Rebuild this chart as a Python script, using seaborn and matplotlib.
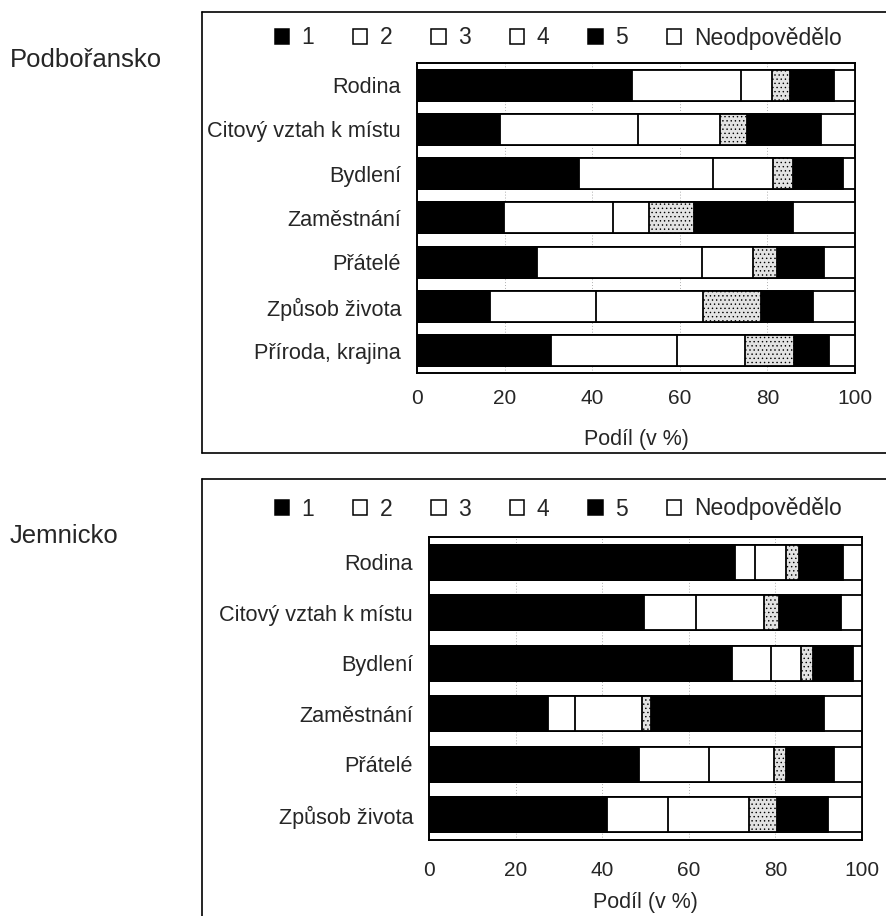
import matplotlib
matplotlib.use("Agg")
import matplotlib.pyplot as plt
import seaborn as sns
import pandas as pd
import numpy as np
from matplotlib.patches import Patch
from matplotlib.lines import Line2D

sns.set_theme(style="white")
plt.rcParams['font.family'] = ['Liberation Sans', 'DejaVu Sans']
plt.rcParams['hatch.linewidth'] = 0.5

# Answer scale (1 = most important ... 5, plus no answer)
answers = ["1", "2", "3", "4", "5", "Neodpovědělo"]

# Podbořansko, share of respondents in %
podb_categories = ["Rodina", "Citový vztah k místu", "Bydlení", "Zaměstnání",
                   "Přátelé", "Způsob života", "Příroda, krajina"]
podb_1 = [49.2, 19.0, 37.0, 19.9, 27.3, 16.7, 30.5]
podb_2 = [24.8, 31.4, 30.5, 24.9, 37.8, 24.2, 28.9]
podb_3 = [7.1, 18.8, 13.7, 8.2, 11.7, 24.3, 15.5]
podb_4 = [4.1, 6.1, 4.7, 10.3, 5.3, 13.3, 11.2]
podb_5 = [10.0, 16.9, 11.3, 22.6, 10.9, 12.0, 8.0]
podb_na = [4.8, 7.8, 2.8, 14.1, 7.0, 9.5, 5.9]

# Jemnicko, share of respondents in %
jemn_categories = ["Rodina", "Citový vztah k místu", "Bydlení", "Zaměstnání",
                   "Přátelé", "Způsob života"]
jemn_1 = [70.7, 49.7, 69.9, 27.5, 48.6, 41.0]
jemn_2 = [4.6, 12.0, 9.0, 6.2, 16.0, 14.3]
jemn_3 = [7.2, 15.7, 7.1, 15.4, 15.1, 18.5]
jemn_4 = [2.9, 3.5, 2.7, 2.1, 2.8, 6.5]
jemn_5 = [10.2, 14.3, 9.2, 40.1, 11.0, 11.8]
jemn_na = [4.4, 4.8, 2.1, 8.7, 6.5, 7.9]

# fill / hatch for each answer
styles = [
    dict(color="black", hatch=None),
    dict(color="white", hatch=None),
    dict(color="white", hatch=None),
    dict(color="#e3e3e3", hatch="...."),
    dict(color="black", hatch=None),
    dict(color="white", hatch=None),
]

W, H = 886, 916
fig = plt.figure(figsize=(W / 100, H / 100), dpi=100)


def fx(px):
    return px / W


def fy(py):
    return 1 - py / H


def stacked(ax, categories, series):
    df = pd.DataFrame({"cat": categories})
    cum = np.cumsum(np.array(series), axis=0)
    # widest cumulative bar first, narrower ones drawn on top
    for k in range(len(series) - 1, -1, -1):
        df["v"] = cum[k]
        st = styles[k]
        sns.barplot(data=df, x="v", y="cat", orient="h", color=st["color"],
                    saturation=1, width=0.7, edgecolor="black", linewidth=1.3,
                    hatch=st["hatch"], ax=ax, zorder=3)
    ax.set_xlim(0, 100)
    ax.set_xticks([0, 20, 40, 60, 80, 100])
    ax.set_ylabel("")
    ax.set_xlabel("Podíl (v %)", fontsize=15.5)
    for x in [20, 40, 60, 80]:
        ax.axvline(x, color="#b0b0b0", lw=0.7, ls=(0, (1, 2)), zorder=1)
    for s in ax.spines.values():
        s.set_visible(True)
        s.set_color("black")
        s.set_linewidth(1.4)
    ax.tick_params(axis="both", length=0)
    ax.tick_params(axis="y", labelsize=15.6, pad=11.5)
    ax.tick_params(axis="x", labelsize=15)


# Podbořansko panel
ax1 = fig.add_axes([fx(417), fy(373), fx(855) - fx(417), fy(63) - fy(373)])
stacked(ax1, podb_categories, [podb_1, podb_2, podb_3, podb_4, podb_5, podb_na])
ax1.tick_params(axis="x", pad=11.5)
ax1.xaxis.labelpad = 15

# Jemnicko panel
ax2 = fig.add_axes([fx(429), fy(840), fx(862) - fx(429), fy(537) - fy(840)])
stacked(ax2, jemn_categories, [jemn_1, jemn_2, jemn_3, jemn_4, jemn_5, jemn_na])
ax2.tick_params(axis="x", pad=15)
ax2.xaxis.labelpad = 9

# legends (answer 4 shown as a plain open square)
handles = []
for i, st in enumerate(styles):
    fc = "white" if i == 3 else st["color"]
    handles.append(Patch(facecolor=fc, edgecolor="black", linewidth=1.1))
for ypx in (38, 509):
    fig.legend(handles, answers, loc="center", bbox_to_anchor=(fx(558), fy(ypx)),
               ncol=6, frameon=False, fontsize=16.5, handlelength=0.62,
               handleheight=0.62, handletextpad=0.55, columnspacing=1.7,
               borderaxespad=0, borderpad=0)

# chart frames
lw = 1.2
for xs, ys in [((202, 202), (12, 453)), ((202, W), (12, 12)), ((202, W), (453, 453)),
               ((202, 202), (479, H)), ((202, W), (479, 479))]:
    fig.add_artist(Line2D([fx(x) for x in xs], [fy(y) for y in ys],
                          color="black", lw=lw, transform=fig.transFigure))

# region names
fig.text(fx(10), fy(60), "Podbořansko", fontsize=18.5, ha="left", va="center")
fig.text(fx(10), fy(536), "Jemnicko", fontsize=18.5, ha="left", va="center")

fig.savefig("out.png", dpi=100)
